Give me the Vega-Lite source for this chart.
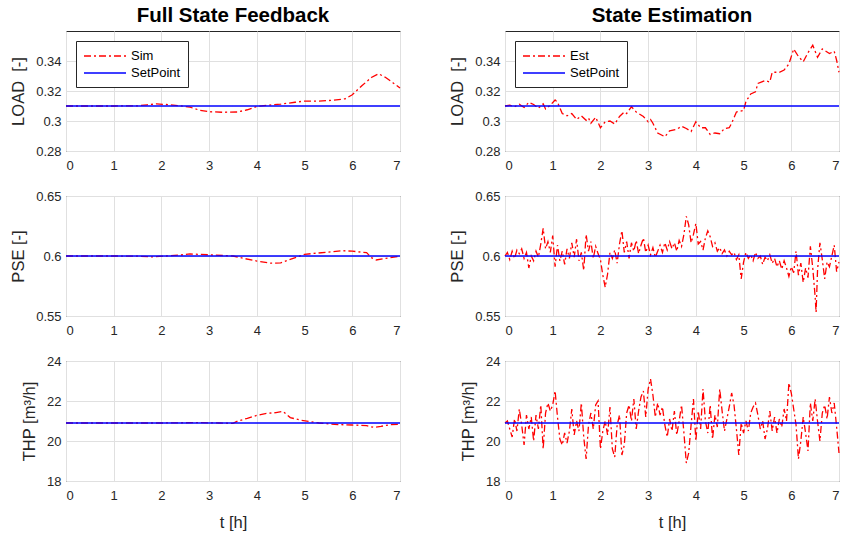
{
  "$schema": "https://vega.github.io/schema/vega-lite/v6.json",
  "padding": {"left": 10, "top": 5, "right": 2, "bottom": 2},
  "background": "white",
  "config": {
    "font": "Liberation Sans",
    "view": {"stroke": "#262626", "strokeWidth": 1},
    "axis": {"labelFontSize": 13, "labelColor": "#262626", "titleFontSize": 16.5, "titleColor": "#262626", "titleFontWeight": "normal", "gridColor": "#e0e0e0", "domain": false, "ticks": false, "labelPadding": 5},
    "axisX": {"labelPadding": 8, "titlePadding": 12},
    "axisY": {"titlePadding": 9},
    "title": {"fontSize": 20.5, "fontWeight": "bold", "color": "#000000", "anchor": "middle", "offset": 5},
    "line": {"strokeWidth": 1.3}
  },
  "datasets": {
    "loadSim": [
      {"t":0,"v":0.31},{"t":0.5,"v":0.31},{"t":1.0,"v":0.31},{"t":1.5,"v":0.3101},{"t":1.7,"v":0.3108},{"t":1.9,"v":0.3114},{"t":2.1,"v":0.311},{"t":2.4,"v":0.3101},{"t":2.6,"v":0.3092},{"t":2.8,"v":0.3072},{"t":3.0,"v":0.3062},{"t":3.3,"v":0.3058},{"t":3.6,"v":0.306},{"t":3.8,"v":0.3075},{"t":4.0,"v":0.3097},{"t":4.2,"v":0.3105},{"t":4.5,"v":0.3112},{"t":4.8,"v":0.3125},{"t":5.0,"v":0.3133},{"t":5.3,"v":0.3133},{"t":5.6,"v":0.3138},{"t":5.85,"v":0.3148},{"t":6.0,"v":0.3175},{"t":6.2,"v":0.3235},{"t":6.4,"v":0.329},{"t":6.55,"v":0.3315},{"t":6.7,"v":0.329},{"t":6.85,"v":0.3255},{"t":7.0,"v":0.322}
    ],
    "loadEst": [
      {"t":0,"v":0.31},{"t":0.1,"v":0.3105},{"t":0.2,"v":0.3095},{"t":0.3,"v":0.3112},{"t":0.4,"v":0.309},{"t":0.5,"v":0.3125},{"t":0.6,"v":0.311},{"t":0.7,"v":0.3085},{"t":0.8,"v":0.3115},{"t":0.85,"v":0.308},{"t":0.95,"v":0.3105},{"t":1.05,"v":0.314},{"t":1.1,"v":0.3125},{"t":1.2,"v":0.305},{"t":1.3,"v":0.3035},{"t":1.4,"v":0.305},{"t":1.5,"v":0.301},{"t":1.6,"v":0.3035},{"t":1.7,"v":0.3005},{"t":1.75,"v":0.302},{"t":1.8,"v":0.2985},{"t":1.9,"v":0.3025},{"t":2.0,"v":0.2955},{"t":2.1,"v":0.2995},{"t":2.2,"v":0.3},{"t":2.3,"v":0.298},{"t":2.4,"v":0.303},{"t":2.5,"v":0.306},{"t":2.55,"v":0.305},{"t":2.65,"v":0.3095},{"t":2.75,"v":0.306},{"t":2.9,"v":0.303},{"t":3.0,"v":0.2995},{"t":3.05,"v":0.301},{"t":3.1,"v":0.2985},{"t":3.2,"v":0.292},{"t":3.35,"v":0.2895},{"t":3.45,"v":0.2935},{"t":3.6,"v":0.2945},{"t":3.7,"v":0.2965},{"t":3.8,"v":0.295},{"t":3.9,"v":0.293},{"t":4.0,"v":0.2995},{"t":4.1,"v":0.2955},{"t":4.2,"v":0.2955},{"t":4.3,"v":0.291},{"t":4.4,"v":0.292},{"t":4.5,"v":0.2915},{"t":4.6,"v":0.295},{"t":4.7,"v":0.2955},{"t":4.75,"v":0.2985},{"t":4.85,"v":0.306},{"t":5.0,"v":0.307},{"t":5.05,"v":0.313},{"t":5.15,"v":0.318},{"t":5.25,"v":0.3195},{"t":5.3,"v":0.325},{"t":5.45,"v":0.327},{"t":5.55,"v":0.326},{"t":5.6,"v":0.3325},{"t":5.75,"v":0.3325},{"t":5.85,"v":0.334},{"t":5.95,"v":0.338},{"t":6.05,"v":0.348},{"t":6.15,"v":0.343},{"t":6.25,"v":0.3395},{"t":6.35,"v":0.3455},{"t":6.45,"v":0.3505},{"t":6.55,"v":0.3425},{"t":6.65,"v":0.348},{"t":6.8,"v":0.345},{"t":6.9,"v":0.3465},{"t":6.95,"v":0.3405},{"t":7.0,"v":0.3325}
    ],
    "pseSim": [
      {"t":0,"v":0.6},{"t":1.0,"v":0.6},{"t":1.5,"v":0.5999},{"t":1.8,"v":0.5993},{"t":2.1,"v":0.6},{"t":2.4,"v":0.6008},{"t":2.6,"v":0.6017},{"t":3.0,"v":0.601},{"t":3.3,"v":0.6004},{"t":3.5,"v":0.6},{"t":3.75,"v":0.5978},{"t":4.0,"v":0.5958},{"t":4.3,"v":0.594},{"t":4.5,"v":0.5942},{"t":4.7,"v":0.5972},{"t":5.0,"v":0.6014},{"t":5.5,"v":0.6033},{"t":5.8,"v":0.6044},{"t":6.0,"v":0.604},{"t":6.3,"v":0.6028},{"t":6.4,"v":0.5986},{"t":6.5,"v":0.5967},{"t":6.7,"v":0.598},{"t":7.0,"v":0.5997}
    ],
    "pseEst": [
      {"t":0.00,"v":0.600},{"t":0.05,"v":0.603},{"t":0.10,"v":0.597},{"t":0.15,"v":0.604},{"t":0.20,"v":0.598},{"t":0.25,"v":0.605},{"t":0.30,"v":0.602},{"t":0.35,"v":0.606},{"t":0.40,"v":0.598},{"t":0.45,"v":0.603},{"t":0.50,"v":0.590},{"t":0.55,"v":0.600},{"t":0.60,"v":0.596},{"t":0.65,"v":0.604},{"t":0.70,"v":0.599},{"t":0.75,"v":0.610},{"t":0.80,"v":0.623},{"t":0.85,"v":0.606},{"t":0.90,"v":0.612},{"t":0.95,"v":0.603},{"t":1.00,"v":0.617},{"t":1.05,"v":0.591},{"t":1.10,"v":0.609},{"t":1.15,"v":0.596},{"t":1.20,"v":0.604},{"t":1.25,"v":0.593},{"t":1.30,"v":0.606},{"t":1.35,"v":0.598},{"t":1.40,"v":0.611},{"t":1.45,"v":0.599},{"t":1.50,"v":0.614},{"t":1.55,"v":0.596},{"t":1.60,"v":0.603},{"t":1.65,"v":0.588},{"t":1.70,"v":0.618},{"t":1.75,"v":0.604},{"t":1.80,"v":0.612},{"t":1.85,"v":0.598},{"t":1.90,"v":0.608},{"t":1.95,"v":0.602},{"t":2.00,"v":0.597},{"t":2.05,"v":0.584},{"t":2.10,"v":0.574},{"t":2.15,"v":0.585},{"t":2.20,"v":0.603},{"t":2.25,"v":0.598},{"t":2.30,"v":0.605},{"t":2.35,"v":0.594},{"t":2.40,"v":0.610},{"t":2.45,"v":0.621},{"t":2.50,"v":0.603},{"t":2.55,"v":0.612},{"t":2.60,"v":0.598},{"t":2.65,"v":0.611},{"t":2.70,"v":0.604},{"t":2.75,"v":0.613},{"t":2.80,"v":0.602},{"t":2.85,"v":0.609},{"t":2.90,"v":0.615},{"t":2.95,"v":0.603},{"t":3.00,"v":0.609},{"t":3.05,"v":0.601},{"t":3.10,"v":0.607},{"t":3.15,"v":0.599},{"t":3.20,"v":0.604},{"t":3.25,"v":0.609},{"t":3.30,"v":0.603},{"t":3.35,"v":0.611},{"t":3.40,"v":0.605},{"t":3.45,"v":0.612},{"t":3.50,"v":0.606},{"t":3.55,"v":0.611},{"t":3.60,"v":0.604},{"t":3.65,"v":0.613},{"t":3.70,"v":0.608},{"t":3.75,"v":0.618},{"t":3.80,"v":0.633},{"t":3.85,"v":0.626},{"t":3.90,"v":0.611},{"t":3.95,"v":0.618},{"t":4.00,"v":0.627},{"t":4.05,"v":0.610},{"t":4.10,"v":0.612},{"t":4.15,"v":0.605},{"t":4.20,"v":0.615},{"t":4.25,"v":0.621},{"t":4.30,"v":0.616},{"t":4.35,"v":0.608},{"t":4.40,"v":0.611},{"t":4.45,"v":0.604},{"t":4.50,"v":0.607},{"t":4.55,"v":0.602},{"t":4.60,"v":0.605},{"t":4.65,"v":0.600},{"t":4.70,"v":0.604},{"t":4.75,"v":0.601},{"t":4.80,"v":0.603},{"t":4.85,"v":0.597},{"t":4.90,"v":0.601},{"t":4.95,"v":0.581},{"t":5.00,"v":0.595},{"t":5.05,"v":0.603},{"t":5.10,"v":0.598},{"t":5.15,"v":0.601},{"t":5.20,"v":0.596},{"t":5.25,"v":0.603},{"t":5.30,"v":0.598},{"t":5.35,"v":0.600},{"t":5.40,"v":0.593},{"t":5.45,"v":0.599},{"t":5.50,"v":0.596},{"t":5.55,"v":0.601},{"t":5.60,"v":0.594},{"t":5.65,"v":0.598},{"t":5.70,"v":0.591},{"t":5.75,"v":0.596},{"t":5.80,"v":0.589},{"t":5.85,"v":0.596},{"t":5.90,"v":0.590},{"t":5.95,"v":0.583},{"t":6.00,"v":0.591},{"t":6.05,"v":0.586},{"t":6.10,"v":0.604},{"t":6.15,"v":0.584},{"t":6.20,"v":0.594},{"t":6.25,"v":0.578},{"t":6.30,"v":0.590},{"t":6.35,"v":0.582},{"t":6.40,"v":0.608},{"t":6.45,"v":0.590},{"t":6.50,"v":0.566},{"t":6.52,"v":0.553},{"t":6.55,"v":0.588},{"t":6.60,"v":0.611},{"t":6.65,"v":0.597},{"t":6.70,"v":0.581},{"t":6.75,"v":0.595},{"t":6.80,"v":0.591},{"t":6.85,"v":0.600},{"t":6.90,"v":0.609},{"t":6.95,"v":0.587},{"t":7.00,"v":0.595}
    ],
    "thpSim": [
      {"t":0,"v":20.9},{"t":1.0,"v":20.9},{"t":2.0,"v":20.9},{"t":2.8,"v":20.92},{"t":3.2,"v":20.9},{"t":3.5,"v":20.88},{"t":3.6,"v":21.0},{"t":3.8,"v":21.13},{"t":4.0,"v":21.28},{"t":4.2,"v":21.38},{"t":4.4,"v":21.42},{"t":4.55,"v":21.48},{"t":4.7,"v":21.17},{"t":4.9,"v":21.05},{"t":5.1,"v":20.98},{"t":5.3,"v":20.9},{"t":5.7,"v":20.82},{"t":6.0,"v":20.8},{"t":6.3,"v":20.77},{"t":6.45,"v":20.68},{"t":6.6,"v":20.73},{"t":6.8,"v":20.82},{"t":7.0,"v":20.83}
    ],
    "thpEst": [
      {"t":0.00,"v":20.9},{"t":0.05,"v":21.0},{"t":0.10,"v":20.6},{"t":0.15,"v":20.2},{"t":0.20,"v":21.1},{"t":0.25,"v":20.5},{"t":0.30,"v":21.6},{"t":0.35,"v":20.8},{"t":0.40,"v":19.8},{"t":0.45,"v":21.3},{"t":0.50,"v":20.6},{"t":0.55,"v":21.2},{"t":0.60,"v":20.0},{"t":0.65,"v":21.3},{"t":0.70,"v":20.6},{"t":0.75,"v":21.8},{"t":0.80,"v":19.6},{"t":0.85,"v":21.4},{"t":0.90,"v":21.9},{"t":0.95,"v":21.5},{"t":1.00,"v":21.8},{"t":1.05,"v":22.5},{"t":1.10,"v":21.2},{"t":1.15,"v":20.1},{"t":1.20,"v":19.8},{"t":1.25,"v":20.4},{"t":1.30,"v":19.9},{"t":1.35,"v":20.5},{"t":1.40,"v":21.6},{"t":1.45,"v":20.3},{"t":1.50,"v":21.0},{"t":1.55,"v":20.5},{"t":1.60,"v":21.9},{"t":1.65,"v":20.2},{"t":1.70,"v":19.1},{"t":1.75,"v":20.8},{"t":1.80,"v":21.4},{"t":1.85,"v":20.6},{"t":1.90,"v":21.8},{"t":1.95,"v":22.0},{"t":2.00,"v":19.6},{"t":2.05,"v":20.5},{"t":2.10,"v":21.0},{"t":2.15,"v":20.3},{"t":2.20,"v":21.7},{"t":2.25,"v":19.6},{"t":2.30,"v":19.2},{"t":2.35,"v":20.8},{"t":2.40,"v":21.3},{"t":2.45,"v":19.3},{"t":2.50,"v":19.8},{"t":2.55,"v":21.4},{"t":2.60,"v":21.8},{"t":2.65,"v":21.0},{"t":2.70,"v":22.1},{"t":2.75,"v":20.6},{"t":2.80,"v":21.5},{"t":2.85,"v":22.2},{"t":2.90,"v":22.5},{"t":2.95,"v":21.2},{"t":3.00,"v":22.6},{"t":3.05,"v":23.1},{"t":3.10,"v":22.3},{"t":3.15,"v":21.2},{"t":3.20,"v":21.9},{"t":3.25,"v":21.3},{"t":3.30,"v":21.7},{"t":3.35,"v":20.8},{"t":3.40,"v":20.2},{"t":3.45,"v":21.1},{"t":3.50,"v":20.5},{"t":3.55,"v":21.5},{"t":3.60,"v":20.3},{"t":3.65,"v":21.0},{"t":3.70,"v":21.8},{"t":3.75,"v":20.4},{"t":3.80,"v":18.9},{"t":3.85,"v":19.4},{"t":3.90,"v":20.8},{"t":3.95,"v":22.1},{"t":4.00,"v":20.0},{"t":4.05,"v":21.5},{"t":4.10,"v":20.6},{"t":4.15,"v":22.6},{"t":4.20,"v":21.0},{"t":4.25,"v":20.4},{"t":4.30,"v":21.8},{"t":4.35,"v":20.1},{"t":4.40,"v":21.3},{"t":4.45,"v":20.7},{"t":4.50,"v":22.6},{"t":4.55,"v":21.5},{"t":4.60,"v":20.5},{"t":4.65,"v":21.1},{"t":4.70,"v":21.7},{"t":4.75,"v":22.4},{"t":4.80,"v":21.8},{"t":4.85,"v":20.6},{"t":4.90,"v":19.3},{"t":4.95,"v":20.9},{"t":5.00,"v":20.4},{"t":5.05,"v":21.0},{"t":5.10,"v":20.5},{"t":5.15,"v":21.4},{"t":5.20,"v":21.7},{"t":5.25,"v":21.9},{"t":5.30,"v":21.3},{"t":5.35,"v":20.6},{"t":5.40,"v":21.0},{"t":5.45,"v":20.1},{"t":5.50,"v":20.6},{"t":5.55,"v":21.5},{"t":5.60,"v":20.5},{"t":5.65,"v":21.2},{"t":5.70,"v":20.4},{"t":5.75,"v":21.1},{"t":5.80,"v":20.7},{"t":5.85,"v":21.6},{"t":5.90,"v":21.0},{"t":5.95,"v":22.9},{"t":6.00,"v":22.4},{"t":6.05,"v":21.6},{"t":6.10,"v":20.8},{"t":6.15,"v":19.1},{"t":6.20,"v":20.0},{"t":6.25,"v":21.2},{"t":6.30,"v":20.4},{"t":6.35,"v":19.5},{"t":6.40,"v":21.9},{"t":6.45,"v":21.0},{"t":6.50,"v":22.1},{"t":6.55,"v":21.0},{"t":6.60,"v":20.0},{"t":6.65,"v":21.4},{"t":6.70,"v":21.8},{"t":6.75,"v":21.1},{"t":6.80,"v":22.2},{"t":6.85,"v":21.4},{"t":6.90,"v":21.9},{"t":6.95,"v":20.7},{"t":7.00,"v":19.4}
    ],
    "spLoad": [{"t":0,"v":0.31},{"t":7,"v":0.31}],
    "spPse": [{"t":0,"v":0.6},{"t":7,"v":0.6}],
    "spThp": [{"t":0,"v":20.9},{"t":7,"v":20.9}]
  },
  "columns": 2,
  "bounds": "flush",
  "spacing": {"row": 45, "column": 105},
  "resolve": {"scale": {"color": "independent", "strokeDash": "independent", "x": "independent", "y": "independent"}, "legend": {"color": "independent", "strokeDash": "independent"}},
  "concat": [
    {
      "width": 334, "height": 120,
      "title": "Full State Feedback",
      "encoding": {
        "x": {"field": "t", "type": "quantitative", "scale": {"domain": [0, 7], "nice": false}, "axis": {"values": [0,1,2,3,4,5,6,7], "format": "d", "title": null}},
        "y": {"field": "v", "type": "quantitative", "scale": {"domain": [0.28, 0.36], "nice": false, "zero": false}, "axis": {"values": [0.28,0.3,0.32,0.34], "format": ".2~f", "title": "LOAD\u00a0 [-]"}}
      },
      "layer": [
        {"data": {"name": "loadSim"}, "mark": {"type": "line"},
         "encoding": {
           "color": {"datum": "Sim", "type": "nominal", "scale": {"domain": ["Sim", "SetPoint"], "range": ["#ff0000", "#0000ff"]}, "legend": {"title": null, "orient": "top-left", "offset": 10, "strokeColor": "#262626", "fillColor": "white", "padding": 7, "symbolType": "M-1,0H5", "symbolSize": 196, "symbolStrokeWidth": 1.5, "labelFontSize": 13, "labelColor": "#000000", "rowPadding": 2, "labelOffset": 32}},
           "strokeDash": {"datum": "Sim", "type": "nominal", "scale": {"domain": ["Sim", "SetPoint"], "range": [[7,3,2,3],[1,0]]}, "legend": {"title": null, "orient": "top-left", "offset": 10, "strokeColor": "#262626", "fillColor": "white", "padding": 7, "symbolType": "M-1,0H5", "symbolSize": 196, "symbolStrokeWidth": 1.5, "labelFontSize": 13, "labelColor": "#000000", "rowPadding": 2, "labelOffset": 32}}
         }},
        {"data": {"name": "spLoad"}, "mark": {"type": "line"},
         "encoding": {
           "color": {"datum": "SetPoint", "type": "nominal"},
           "strokeDash": {"datum": "SetPoint", "type": "nominal"}
         }}
      ]
    },
    {
      "width": 334, "height": 120,
      "title": "State Estimation",
      "encoding": {
        "x": {"field": "t", "type": "quantitative", "scale": {"domain": [0, 7], "nice": false}, "axis": {"values": [0,1,2,3,4,5,6,7], "format": "d", "title": null}},
        "y": {"field": "v", "type": "quantitative", "scale": {"domain": [0.28, 0.36], "nice": false, "zero": false}, "axis": {"values": [0.28,0.3,0.32,0.34], "format": ".2~f", "title": "LOAD\u00a0 [-]"}}
      },
      "layer": [
        {"data": {"name": "loadEst"}, "mark": {"type": "line"},
         "encoding": {
           "color": {"datum": "Est", "type": "nominal", "scale": {"domain": ["Est", "SetPoint"], "range": ["#ff0000", "#0000ff"]}, "legend": {"title": null, "orient": "top-left", "offset": 10, "strokeColor": "#262626", "fillColor": "white", "padding": 7, "symbolType": "M-1,0H5", "symbolSize": 196, "symbolStrokeWidth": 1.5, "labelFontSize": 13, "labelColor": "#000000", "rowPadding": 2, "labelOffset": 32}},
           "strokeDash": {"datum": "Est", "type": "nominal", "scale": {"domain": ["Est", "SetPoint"], "range": [[7,3,2,3],[1,0]]}, "legend": {"title": null, "orient": "top-left", "offset": 10, "strokeColor": "#262626", "fillColor": "white", "padding": 7, "symbolType": "M-1,0H5", "symbolSize": 196, "symbolStrokeWidth": 1.5, "labelFontSize": 13, "labelColor": "#000000", "rowPadding": 2, "labelOffset": 32}}
         }},
        {"data": {"name": "spLoad"}, "mark": {"type": "line"},
         "encoding": {
           "color": {"datum": "SetPoint", "type": "nominal"},
           "strokeDash": {"datum": "SetPoint", "type": "nominal"}
         }}
      ]
    },
    {
      "width": 334, "height": 120,
      "encoding": {
        "x": {"field": "t", "type": "quantitative", "scale": {"domain": [0, 7], "nice": false}, "axis": {"values": [0,1,2,3,4,5,6,7], "format": "d", "title": null}},
        "y": {"field": "v", "type": "quantitative", "scale": {"domain": [0.55, 0.65], "nice": false, "zero": false}, "axis": {"values": [0.55,0.6,0.65], "format": ".2~f", "title": "PSE [-]"}}
      },
      "layer": [
        {"data": {"name": "pseSim"}, "mark": {"type": "line"},
         "encoding": {
           "color": {"datum": "Sim", "type": "nominal", "scale": {"domain": ["Sim", "SetPoint"], "range": ["#ff0000", "#0000ff"]}, "legend": null},
           "strokeDash": {"datum": "Sim", "type": "nominal", "scale": {"domain": ["Sim", "SetPoint"], "range": [[7,3,2,3],[1,0]]}, "legend": null}
         }},
        {"data": {"name": "spPse"}, "mark": {"type": "line"},
         "encoding": {
           "color": {"datum": "SetPoint", "type": "nominal", "legend": null},
           "strokeDash": {"datum": "SetPoint", "type": "nominal", "legend": null}
         }}
      ]
    },
    {
      "width": 334, "height": 120,
      "encoding": {
        "x": {"field": "t", "type": "quantitative", "scale": {"domain": [0, 7], "nice": false}, "axis": {"values": [0,1,2,3,4,5,6,7], "format": "d", "title": null}},
        "y": {"field": "v", "type": "quantitative", "scale": {"domain": [0.55, 0.65], "nice": false, "zero": false}, "axis": {"values": [0.55,0.6,0.65], "format": ".2~f", "title": "PSE [-]"}}
      },
      "layer": [
        {"data": {"name": "pseEst"}, "mark": {"type": "line"},
         "encoding": {
           "color": {"datum": "Est", "type": "nominal", "scale": {"domain": ["Est", "SetPoint"], "range": ["#ff0000", "#0000ff"]}, "legend": null},
           "strokeDash": {"datum": "Est", "type": "nominal", "scale": {"domain": ["Est", "SetPoint"], "range": [[7,3,2,3],[1,0]]}, "legend": null}
         }},
        {"data": {"name": "spPse"}, "mark": {"type": "line"},
         "encoding": {
           "color": {"datum": "SetPoint", "type": "nominal", "legend": null},
           "strokeDash": {"datum": "SetPoint", "type": "nominal", "legend": null}
         }}
      ]
    },
    {
      "width": 334, "height": 120,
      "encoding": {
        "x": {"field": "t", "type": "quantitative", "scale": {"domain": [0, 7], "nice": false}, "axis": {"values": [0,1,2,3,4,5,6,7], "format": "d", "title": "t [h]"}},
        "y": {"field": "v", "type": "quantitative", "scale": {"domain": [18, 24], "nice": false, "zero": false}, "axis": {"values": [18,20,22,24], "format": "d", "title": "THP [m³/h]"}}
      },
      "layer": [
        {"data": {"name": "thpSim"}, "mark": {"type": "line"},
         "encoding": {
           "color": {"datum": "Sim", "type": "nominal", "scale": {"domain": ["Sim", "SetPoint"], "range": ["#ff0000", "#0000ff"]}, "legend": null},
           "strokeDash": {"datum": "Sim", "type": "nominal", "scale": {"domain": ["Sim", "SetPoint"], "range": [[7,3,2,3],[1,0]]}, "legend": null}
         }},
        {"data": {"name": "spThp"}, "mark": {"type": "line"},
         "encoding": {
           "color": {"datum": "SetPoint", "type": "nominal", "legend": null},
           "strokeDash": {"datum": "SetPoint", "type": "nominal", "legend": null}
         }}
      ]
    },
    {
      "width": 334, "height": 120,
      "encoding": {
        "x": {"field": "t", "type": "quantitative", "scale": {"domain": [0, 7], "nice": false}, "axis": {"values": [0,1,2,3,4,5,6,7], "format": "d", "title": "t [h]"}},
        "y": {"field": "v", "type": "quantitative", "scale": {"domain": [18, 24], "nice": false, "zero": false}, "axis": {"values": [18,20,22,24], "format": "d", "title": "THP [m³/h]"}}
      },
      "layer": [
        {"data": {"name": "thpEst"}, "mark": {"type": "line"},
         "encoding": {
           "color": {"datum": "Est", "type": "nominal", "scale": {"domain": ["Est", "SetPoint"], "range": ["#ff0000", "#0000ff"]}, "legend": null},
           "strokeDash": {"datum": "Est", "type": "nominal", "scale": {"domain": ["Est", "SetPoint"], "range": [[7,3,2,3],[1,0]]}, "legend": null}
         }},
        {"data": {"name": "spThp"}, "mark": {"type": "line"},
         "encoding": {
           "color": {"datum": "SetPoint", "type": "nominal", "legend": null},
           "strokeDash": {"datum": "SetPoint", "type": "nominal", "legend": null}
         }}
      ]
    }
  ]
}
